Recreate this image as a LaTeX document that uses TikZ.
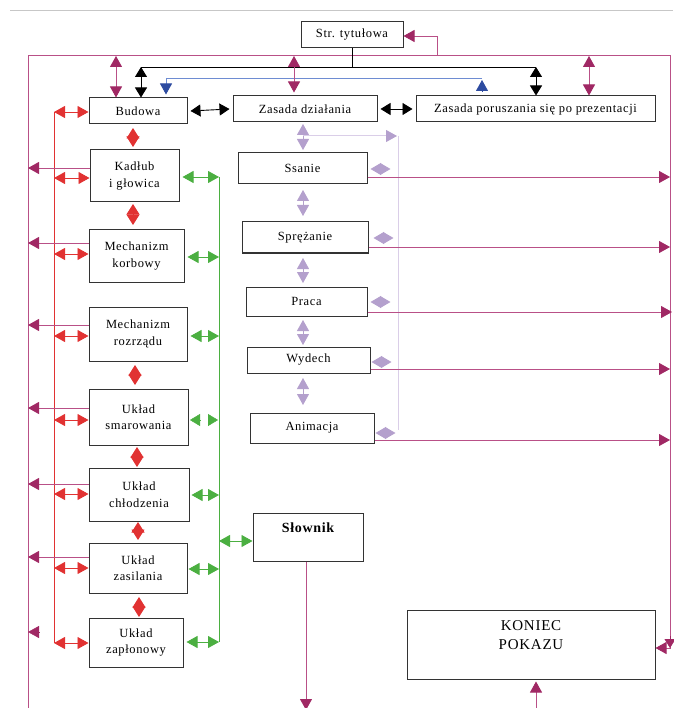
\documentclass[tikz,border=0pt]{standalone}
\usepackage{fontspec}
\setmainfont{Liberation Serif}[LetterSpace=5]
\usetikzlibrary{arrows.meta}
\definecolor{mag}{RGB}{160,40,100}
\definecolor{magl}{RGB}{185,80,135}
\definecolor{rd}{RGB}{225,50,50}
\definecolor{gr}{RGB}{75,175,65}
\definecolor{pu}{RGB}{180,160,205}
\definecolor{pul}{RGB}{218,206,232}
\definecolor{bl}{RGB}{45,75,160}
\definecolor{bll}{RGB}{110,140,210}
\begin{document}
\begin{tikzpicture}[x=1pt,y=-1pt,
  box/.style={draw=black!80, line width=1pt, fill=white, inner sep=0pt, align=center,
    font=\fontsize{12.5}{16.5}\selectfont},
  mline/.style={magl, line width=0.9pt, -{Triangle[length=11pt,width=12pt,color=mag]}},
  mdbl/.style={magl, line width=0.9pt, {Triangle[length=11pt,width=12pt,color=mag]}-{Triangle[length=11pt,width=12pt,color=mag]}},
  rdbl/.style={rd, line width=0.9pt, {Triangle[length=11pt,width=12pt]}-{Triangle[length=11pt,width=12pt]}},
  rdia/.style={rd, line width=0.9pt, {Triangle[length=10.5pt,width=13pt]}-{Triangle[length=10.5pt,width=13pt]}},
  gdbl/.style={gr, line width=0.9pt, {Triangle[length=11pt,width=12pt]}-{Triangle[length=11pt,width=12pt]}},
  pdbl/.style={pu, line width=0.9pt, {Triangle[length=11pt,width=12pt]}-{Triangle[length=11pt,width=12pt]}},
  pdia/.style={pu, line width=0.9pt, {Triangle[length=10.5pt,width=12pt]}-{Triangle[length=10.5pt,width=12pt]}},
  kdbl/.style={black, line width=0.9pt, {Triangle[length=10pt,width=12pt]}-{Triangle[length=10pt,width=12pt]}},
]
\useasboundingbox (0,0) rectangle (673,708);
% top gray rule
\draw[black!22, line width=1pt] (10,11) -- (673,11);

% boxes
\node[box, minimum width=102pt, minimum height=26pt] (title) at (352,35) {Str. tytułowa};
\node[box, minimum width=98pt, minimum height=26pt] (budowa) at (138,111) {Budowa};
\node[box, minimum width=144pt, minimum height=26pt] (zasada) at (305,109) {Zasada działania};
\node[box, minimum width=239pt, minimum height=26pt] (porusz) at (535.5,109) {Zasada poruszania się po prezentacji};
\node[box, minimum width=89pt, minimum height=52pt] (kadlub) at (134.5,176) {Kadłub\\i głowica};
\node[box, minimum width=95pt, minimum height=52pt] (korb) at (136.5,256) {Mechanizm\\korbowy};
\node[box, minimum width=98pt, minimum height=54pt] (rozrz) at (138,334) {Mechanizm\\rozrządu};
\node[box, minimum width=99pt, minimum height=56pt] (smar) at (138.5,417) {Układ\\smarowania};
\node[box, minimum width=100pt, minimum height=53pt] (chlod) at (139,494.5) {Układ\\chłodzenia};
\node[box, minimum width=98pt, minimum height=50pt] (zasil) at (138,568) {Układ\\zasilania};
\node[box, minimum width=94pt, minimum height=49pt] (zaplon) at (136,642.5) {Układ\\zapłonowy};
\node[box, minimum width=129pt, minimum height=31pt] (ssanie) at (302.5,168.5) {Ssanie};
\node[box, minimum width=126pt, minimum height=31pt] (sprez) at (305,237.5) {Sprężanie};
\node[box, minimum width=121pt, minimum height=29pt] (praca) at (306.5,301.5) {Praca};
\node[box, minimum width=123pt, minimum height=26pt] (wydech) at (308.5,360) {Wydech};
\node[box, minimum width=124pt, minimum height=30pt] (anim) at (312,428) {Animacja};
\node[box, minimum width=110pt, minimum height=48pt, text depth=19pt, font=\fontsize{14}{17}\selectfont\bfseries] (slownik) at (308,537) {Słownik};
\node[box, minimum width=248pt, minimum height=69pt, font=\fontsize{15}{19}\selectfont] (koniec) at (531,644.5) {KONIEC\\POKAZU\\\mbox{}};

% magenta frame
\draw[mline] (28,708) -- (28,55) -- (670,55) -- (670,648) -- (koniec.east |- 0,648);
\draw[mag, -{Triangle[length=9pt,width=11pt]}] (670,636) -- (670,648);
\draw[mline] (437,55) -- (437,36) -- (title.east |- 0,36);

% black tree from title
\draw[black, line width=0.9pt] (title.south) -- (352,67);
\draw[black, line width=0.9pt] (141,67) -- (536,67);
\draw[kdbl] (141,67) -- (budowa.north -| 141,0);
\draw[kdbl] (536,67) -- (porusz.north -| 536,0);
\draw[kdbl] ([xshift=3pt]budowa.east) -- ([xshift=-3pt]zasada.west);
\draw[kdbl] ([xshift=3pt]zasada.east) -- ([xshift=-3pt]porusz.west);

% blue
\draw[bll, line width=0.9pt] (482,78) -- (166,78);
\draw[bll, line width=0.9pt, -{Triangle[length=11pt,width=12pt,color=bl]}] (166,78) -- ([yshift=3pt]budowa.north -| 166,0);
\draw[bl, line width=0.9pt, -{Triangle[length=11pt,width=12pt]}] (482,91) -- (482,80);

% magenta verticals from frame
\draw[mdbl] (116,56) -- (budowa.north -| 116,0);
\draw[mdbl] (294,56) -- ([yshift=3pt]zasada.north -| 294,0);
\draw[mdbl] (589,56) -- (porusz.north -| 589,0);

% red left bus
\draw[rd, line width=0.9pt] (54,112) -- (54,643);
\draw[rdbl] (54,112) -- (budowa.west |- 0,112);
\draw[rdbl] (54,178) -- (kadlub.west |- 0,178);
\draw[rdbl] (54,254) -- (korb.west |- 0,254);
\draw[rdbl] (54,336) -- (rozrz.west |- 0,336);
\draw[rdbl] (54,420) -- (smar.west |- 0,420);
\draw[rdbl] (54,494) -- (chlod.west |- 0,494);
\draw[rdbl] (54,568) -- (zasil.west |- 0,568);
\draw[rdbl] (54,643) -- (zaplon.west |- 0,643);

% red diamonds between boxes
\draw[rdia] ([yshift=-3.5pt]budowa.south -| 133,0) -- ([yshift=2.5pt]kadlub.north -| 133,0);
\draw[rdia] ([yshift=-1.5pt]kadlub.south -| 133,0) -- ([yshift=4.5pt]korb.north -| 133,0);
\draw[rdia] ([yshift=-3.5pt]rozrz.south -| 135,0) -- ([yshift=3.5pt]smar.north -| 135,0);
\draw[rdia] ([yshift=-1.5pt]smar.south -| 137,0) -- ([yshift=0.5pt]chlod.north -| 137,0);
\draw[rdia] ([yshift=-0.5pt]chlod.south -| 138,0) -- ([yshift=2.5pt]zasil.north -| 138,0);
\draw[rdia] ([yshift=-3.5pt]zasil.south -| 139,0) -- ([yshift=0.5pt]zaplon.north -| 139,0);

% magenta left arrows
\draw[mline] (kadlub.west |- 0,168) -- (28,168);
\draw[mline] (korb.west |- 0,243) -- (28,243);
\draw[mline] (rozrz.west |- 0,325) -- (28,325);
\draw[mline] (smar.west |- 0,408) -- (28,408);
\draw[mline] (chlod.west |- 0,484) -- (28,484);
\draw[mline] (zasil.west |- 0,557) -- (28,557);
\draw[mag, -{Triangle[length=11pt,width=12pt]}] (39,632) -- (28,632);

% green right bus
\draw[gr, line width=0.9pt] (219,177) -- (219,642);
\draw[gdbl] ([xshift=3pt]kadlub.east |- 0,177) -- (219,177);
\draw[gdbl] ([xshift=3pt]korb.east |- 0,257) -- (219,257);
\draw[gdbl] ([xshift=3pt]rozrz.east |- 0,336) -- (219,336);
\draw[gr, -{Triangle[length=10pt,width=12pt]}] (200,420) -- (190,420);
\draw[gr, -{Triangle[length=10pt,width=12pt]}] (208,420) -- (218,420);
\draw[gdbl] ([xshift=2pt]chlod.east |- 0,495) -- (219,495);
\draw[gdbl] ([xshift=1pt]zasil.east |- 0,569) -- (219,569);
\draw[gdbl] ([xshift=3pt]zaplon.east |- 0,642) -- (219,642);
\draw[gdbl] (219,541) -- (slownik.west |- 0,541);

% purple column
\draw[pdbl] ([yshift=-1.5pt]zasada.south -| 303,0) -- ([yshift=2.5pt]ssanie.north -| 303,0);
\draw[pdbl] ([yshift=-5.5pt]ssanie.south -| 303,0) -- ([yshift=5.5pt]sprez.north -| 303,0);
\draw[pdbl] ([yshift=-4.5pt]sprez.south -| 303,0) -- ([yshift=3.5pt]praca.north -| 303,0);
\draw[pdbl] ([yshift=-3.5pt]praca.south -| 303,0) -- ([yshift=1.5pt]wydech.north -| 303,0);
\draw[pdbl] ([yshift=-4.5pt]wydech.south -| 303,0) -- ([yshift=7.5pt]anim.north -| 303,0);
\draw[pul, line width=1pt] (398,136) -- (398,430);
\draw[pul, line width=1pt, -{Triangle[length=11pt,width=12pt,color=pu]}] (303,136) -- (397,136);
\draw[pdia] ([xshift=3pt]ssanie.east |- 0,169) -- ++(20,0);
\draw[pdia] ([xshift=5pt]sprez.east |- 0,238) -- ++(20,0);
\draw[pdia] ([xshift=3pt]praca.east |- 0,302) -- ++(20,0);
\draw[pdia] ([xshift=1pt]wydech.east |- 0,362) -- ++(20,0);
\draw[pdia] ([xshift=1pt]anim.east |- 0,433) -- ++(20,0);

% magenta right arrows
\draw[mline] (ssanie.east |- 0,177) -- (670,177);
\draw[mline] (sprez.east |- 0,247) -- (670,247);
\draw[mline] (praca.east |- 0,312) -- (672,312);
\draw[mline] (wydech.east |- 0,369) -- (670,369);
\draw[mline] (anim.east |- 0,440) -- (670,440);

% bottom
\draw[mline] (slownik.south -| 306,0) -- (306,710);
\draw[mline] (536,708) -- ([yshift=-2pt]koniec.south -| 536,0);
\end{tikzpicture}
\end{document}
